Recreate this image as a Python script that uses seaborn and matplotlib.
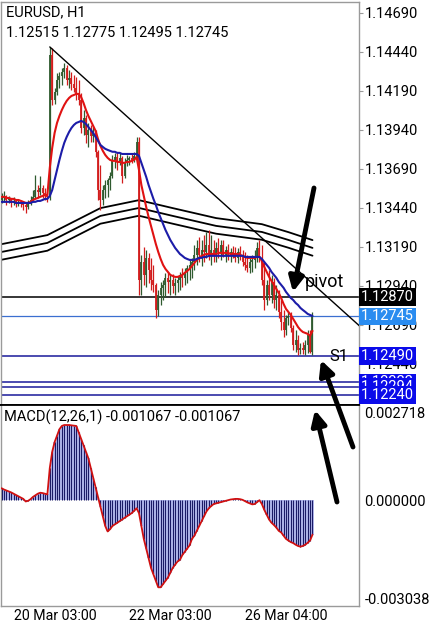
import numpy as np
import pandas as pd
import matplotlib
matplotlib.use('Agg')
import matplotlib.pyplot as plt
import matplotlib.transforms as mtransforms
import seaborn as sns

# ---------------- data: EURUSD H1, 130 bars ----------------
first_open = 1.13491
closes = [
    1.13504, 1.13517, 1.13491, 1.13498, 1.13472, 1.13485, 1.13466, 1.13479, 1.13472, 1.13459,
    1.13446, 1.13472, 1.13491, 1.13511, 1.13555, 1.13543, 1.13568, 1.13536, 1.13523, 1.13511,
    1.14421, 1.14132, 1.14184, 1.14260, 1.14286, 1.14312, 1.14337, 1.14260, 1.14273, 1.14235,
    1.14209, 1.14164, 1.14132, 1.13953, 1.14017, 1.13908, 1.13940, 1.13902, 1.13921, 1.13800,
    1.13555, 1.13491, 1.13555, 1.13587, 1.13620, 1.13645, 1.13748, 1.13767, 1.13735, 1.13761,
    1.13645, 1.13735, 1.13748, 1.13761, 1.13742, 1.13774, 1.13863, 1.12979, 1.13094, 1.13011,
    1.13120, 1.13043, 1.12979, 1.12947, 1.12786, 1.12883, 1.12928, 1.12947, 1.12992, 1.12966,
    1.12979, 1.12940, 1.12960, 1.12979, 1.13011, 1.12992, 1.13030, 1.13056, 1.13075, 1.13094,
    1.13139, 1.13184, 1.13139, 1.13171, 1.13158, 1.13203, 1.13139, 1.13171, 1.13133, 1.13184,
    1.13158, 1.13203, 1.13139, 1.13171, 1.13133, 1.13158, 1.13145, 1.13120, 1.13158, 1.13133,
    1.13094, 1.13075, 1.13056, 1.13094, 1.13107, 1.13133, 1.13184, 1.13120, 1.12979, 1.12850,
    1.12947, 1.12883, 1.12966, 1.12850, 1.12883, 1.12774, 1.12710, 1.12658, 1.12735, 1.12748,
    1.12671, 1.12562, 1.12594, 1.12530, 1.12543, 1.12530, 1.12562, 1.12626, 1.12515, 1.12745,
]
highs = [
    1.13536, 1.13549, 1.13523, 1.13517, 1.13504, 1.13511, 1.13498, 1.13498, 1.13491, 1.13485,
    1.13479, 1.13491, 1.13517, 1.13555, 1.13652, 1.13587, 1.13645, 1.13587, 1.13568, 1.13543,
    1.14472, 1.14466, 1.14209, 1.14305, 1.14312, 1.14337, 1.14369, 1.14357, 1.14324, 1.14312,
    1.14292, 1.14280, 1.14260, 1.14177, 1.14068, 1.14036, 1.13985, 1.13972, 1.13959, 1.13940,
    1.13812, 1.13716, 1.13587, 1.13620, 1.13632, 1.13671, 1.13780, 1.13793, 1.13800, 1.13793,
    1.13774, 1.13761, 1.13780, 1.13774, 1.13786, 1.13800, 1.13895, 1.13895, 1.13139, 1.13190,
    1.13171, 1.13152, 1.13120, 1.13075, 1.12960, 1.12915, 1.12966, 1.12979, 1.13024, 1.13030,
    1.13011, 1.13017, 1.12992, 1.13004, 1.13030, 1.13056, 1.13056, 1.13075, 1.13107, 1.13120,
    1.13203, 1.13235, 1.13254, 1.13235, 1.13266, 1.13286, 1.13299, 1.13266, 1.13235, 1.13222,
    1.13247, 1.13235, 1.13235, 1.13197, 1.13209, 1.13184, 1.13197, 1.13190, 1.13184, 1.13197,
    1.13171, 1.13158, 1.13139, 1.13120, 1.13139, 1.13171, 1.13222, 1.13235, 1.13203, 1.13094,
    1.12979, 1.13043, 1.13011, 1.12992, 1.12947, 1.12915, 1.12850, 1.12786, 1.12754, 1.12774,
    1.12774, 1.12690, 1.12658, 1.12626, 1.12575, 1.12581, 1.12594, 1.12658, 1.12658, 1.12775,
]
lows = [
    1.13472, 1.13479, 1.13459, 1.13472, 1.13446, 1.13459, 1.13446, 1.13453, 1.13446, 1.13427,
    1.13408, 1.13433, 1.13459, 1.13479, 1.13504, 1.13504, 1.13523, 1.13504, 1.13491, 1.13479,
    1.13491, 1.14100, 1.14107, 1.14164, 1.14209, 1.14228, 1.14273, 1.14228, 1.14209, 1.14196,
    1.14184, 1.14132, 1.14100, 1.13921, 1.13908, 1.13857, 1.13831, 1.13863, 1.13863, 1.13767,
    1.13491, 1.13427, 1.13459, 1.13504, 1.13511, 1.13555, 1.13632, 1.13697, 1.13684, 1.13716,
    1.13600, 1.13632, 1.13709, 1.13716, 1.13729, 1.13735, 1.13748, 1.12883, 1.12883, 1.12947,
    1.12934, 1.12960, 1.12915, 1.12902, 1.12735, 1.12748, 1.12818, 1.12850, 1.12870, 1.12895,
    1.12883, 1.12895, 1.12883, 1.12902, 1.12915, 1.12934, 1.12947, 1.12960, 1.12979, 1.12992,
    1.13043, 1.13075, 1.13094, 1.13068, 1.13094, 1.13120, 1.13107, 1.13075, 1.13094, 1.13094,
    1.13120, 1.13107, 1.13126, 1.13094, 1.13107, 1.13094, 1.13120, 1.13094, 1.13088, 1.13107,
    1.13068, 1.13043, 1.13030, 1.13024, 1.13030, 1.13056, 1.13094, 1.13094, 1.12947, 1.12786,
    1.12818, 1.12850, 1.12831, 1.12799, 1.12786, 1.12735, 1.12658, 1.12614, 1.12626, 1.12690,
    1.12645, 1.12530, 1.12517, 1.12498, 1.12505, 1.12505, 1.12498, 1.12511, 1.12511, 1.12495,
]
red_ma = [
    1.13511, 1.13511, 1.13504, 1.13504, 1.13498, 1.13498, 1.13491, 1.13491, 1.13485, 1.13479,
    1.13472, 1.13472, 1.13479, 1.13491, 1.13498, 1.13504, 1.13511, 1.13517, 1.13523, 1.13523,
    1.13697, 1.13825, 1.13921, 1.13985, 1.14030, 1.14068, 1.14100, 1.14126, 1.14145, 1.14158,
    1.14164, 1.14171, 1.14171, 1.14151, 1.14113, 1.14068, 1.14030, 1.13998, 1.13966, 1.13934,
    1.13882, 1.13838, 1.13806, 1.13780, 1.13761, 1.13748, 1.13742, 1.13742, 1.13735, 1.13735,
    1.13729, 1.13729, 1.13735, 1.13735, 1.13742, 1.13748, 1.13767, 1.13684, 1.13587, 1.13517,
    1.13446, 1.13382, 1.13325, 1.13267, 1.13209, 1.13158, 1.13113, 1.13075, 1.13049, 1.13030,
    1.13011, 1.13004, 1.12998, 1.12998, 1.13004, 1.13011, 1.13024, 1.13036, 1.13049, 1.13068,
    1.13088, 1.13107, 1.13120, 1.13133, 1.13139, 1.13145, 1.13145, 1.13145, 1.13145, 1.13145,
    1.13152, 1.13152, 1.13152, 1.13152, 1.13152, 1.13145, 1.13145, 1.13145, 1.13145, 1.13139,
    1.13133, 1.13126, 1.13120, 1.13120, 1.13120, 1.13120, 1.13126, 1.13126, 1.13100, 1.13062,
    1.13030, 1.12998, 1.12972, 1.12947, 1.12921, 1.12895, 1.12863, 1.12825, 1.12793, 1.12774,
    1.12754, 1.12729, 1.12703, 1.12677, 1.12658, 1.12645, 1.12639, 1.12633, 1.12620, 1.12652,
]
blue_ma = [
    1.13479, 1.13479, 1.13479, 1.13479, 1.13479, 1.13479, 1.13472, 1.13472, 1.13472, 1.13472,
    1.13472, 1.13472, 1.13472, 1.13479, 1.13479, 1.13485, 1.13485, 1.13491, 1.13498, 1.13498,
    1.13517, 1.13555, 1.13620, 1.13684, 1.13748, 1.13806, 1.13857, 1.13895, 1.13927, 1.13953,
    1.13972, 1.13985, 1.13991, 1.13998, 1.13991, 1.13978, 1.13959, 1.13940, 1.13921, 1.13895,
    1.13870, 1.13844, 1.13831, 1.13819, 1.13812, 1.13806, 1.13800, 1.13800, 1.13793, 1.13793,
    1.13786, 1.13786, 1.13786, 1.13786, 1.13786, 1.13786, 1.13786, 1.13774, 1.13729, 1.13684,
    1.13639, 1.13587, 1.13543, 1.13498, 1.13459, 1.13414, 1.13376, 1.13337, 1.13299, 1.13267,
    1.13235, 1.13209, 1.13184, 1.13164, 1.13145, 1.13133, 1.13120, 1.13113, 1.13107, 1.13107,
    1.13107, 1.13113, 1.13120, 1.13120, 1.13126, 1.13126, 1.13133, 1.13133, 1.13133, 1.13133,
    1.13133, 1.13133, 1.13133, 1.13133, 1.13133, 1.13133, 1.13133, 1.13133, 1.13133, 1.13133,
    1.13133, 1.13126, 1.13126, 1.13126, 1.13126, 1.13126, 1.13126, 1.13126, 1.13113, 1.13094,
    1.13075, 1.13056, 1.13030, 1.13011, 1.12992, 1.12966, 1.12947, 1.12928, 1.12902, 1.12883,
    1.12863, 1.12850, 1.12831, 1.12818, 1.12799, 1.12786, 1.12774, 1.12761, 1.12754, 1.12748,
]
macd = [
    0.00037, 0.00033, 0.00030, 0.00027, 0.00024, 0.00020, 0.00016, 0.00012, 0.00008, 0.00004,
    -0.00004, -0.00002, 0.00003, 0.00010, 0.00015, 0.00020, 0.00023, 0.00022, 0.00020, 0.00018,
    0.00100, 0.00150, 0.00180, 0.00200, 0.00220, 0.00230, 0.00233, 0.00233, 0.00233, 0.00232,
    0.00231, 0.00230, 0.00210, 0.00190, 0.00170, 0.00150, 0.00130, 0.00100, 0.00070, 0.00040,
    0.00010, -0.00020, -0.00050, -0.00080, -0.00097, -0.00090, -0.00080, -0.00075, -0.00070, -0.00065,
    -0.00060, -0.00055, -0.00050, -0.00045, -0.00040, -0.00033, -0.00025, -0.00040, -0.00080, -0.00120,
    -0.00150, -0.00180, -0.00210, -0.00230, -0.00250, -0.00270, -0.00270, -0.00260, -0.00250, -0.00240,
    -0.00225, -0.00210, -0.00200, -0.00190, -0.00185, -0.00170, -0.00160, -0.00150, -0.00140, -0.00120,
    -0.00110, -0.00095, -0.00080, -0.00065, -0.00050, -0.00035, -0.00025, -0.00018, -0.00012, -0.00010,
    -0.00008, -0.00006, -0.00004, -0.00002, 0.00000, 0.00002, 0.00003, 0.00004, 0.00004, 0.00003,
    0.00001, -0.00003, -0.00007, -0.00010, -0.00013, -0.00012, -0.00006, 0.00000, -0.00012, -0.00030,
    -0.00045, -0.00060, -0.00070, -0.00077, -0.00085, -0.00095, -0.00100, -0.00110, -0.00120, -0.00125,
    -0.00130, -0.00133, -0.00138, -0.00142, -0.00144, -0.00142, -0.00138, -0.00132, -0.00125, -0.001067,
]

# envelope (three black lines) vertices
band_bars = [0, 19, 41, 57, 71, 89, 108, 119, 129]
band_mid = [1.13158, 1.13216, 1.13389, 1.13440, 1.13389, 1.13325, 1.13286, 1.13235, 1.13184]
band_half = 0.0005

# trend line anchors
trend_bars = [20, 149]
trend_prices = [1.14472, 1.12677]

# horizontal levels
levels = [1.12322, 1.12294, 1.12240, 1.12490, 1.12745, 1.12870]
level_line_colors = ['#1a1a9a', '#1a1a9a', '#1a1a9a', '#1a1a9a', '#3b6fd0', 'black']
level_box_colors = ['#0b0bea', '#0b0bea', '#0b0bea', '#0b0bea', '#2a8cf0', 'black']

price_ticks = [1.14690, 1.14440, 1.14190, 1.13940, 1.13690, 1.13440,
               1.13190, 1.12940, 1.12690, 1.12440]
macd_ticks = [0.002718, 0.0, -0.003038]
date_ticks = [5, 53, 101]
date_labels = ['20 Mar 03:00', '22 Mar 03:00', '26 Mar 04:00']

# ---------------- build table ----------------
df = pd.DataFrame({'bar': np.arange(len(closes)), 'close': closes,
                   'high': highs, 'low': lows, 'red': red_ma,
                   'blue': blue_ma, 'macd': macd})
df['open'] = [first_open] + closes[:-1]
df['up'] = df['close'] >= df['open']

sns.set_theme(style='white')
plt.rcParams['font.family'] = ['Roboto', 'DejaVu Sans']
plt.rcParams['axes.linewidth'] = 1.0

fig = plt.figure(figsize=(4.35, 6.25), dpi=100)
ax1 = fig.add_axes([0.002, 0.352, 0.8233, 0.6448])
ax2 = fig.add_axes([0.002, 0.0304, 0.8233, 0.3216])

XMIN, XMAX = -0.3, 148.3
grey = '#9a9a9a'

# ---- price panel ----
for lv, lc in zip(levels, level_line_colors):
    ax1.axhline(lv, color=lc, lw=1.1 if lc != '#3b6fd0' else 0.9, zorder=1)

for off in [band_half, 0.0, -band_half]:
    sns.lineplot(x=band_bars, y=[m + off for m in band_mid], ax=ax1,
                 color='black', lw=1.3, zorder=2)

bar_colors = np.where(df['up'], '#2f5a2f', '#d21c1c')
ax1.vlines(df['bar'], df['low'], df['high'], colors=bar_colors, lw=0.9, zorder=3)
ax1.vlines(df['bar'], df['open'], df['close'], colors=bar_colors, lw=1.3, zorder=3)

sns.lineplot(data=df, x='bar', y='red', ax=ax1, color='#e01212', lw=1.5, zorder=4)
sns.lineplot(data=df, x='bar', y='blue', ax=ax1, color='#1c1ca8', lw=1.5, zorder=4)
ax1.plot(trend_bars, trend_prices, color='black', lw=1.0, zorder=4)

ax1.set_xlim(XMIN, XMAX)
ax1.set_ylim(1.12177, 1.14760)
ax1.set_xlabel('')
ax1.set_ylabel('')
ax1.set_xticks([])
ax1.yaxis.tick_right()
ax1.set_yticks(price_ticks)
ax1.set_yticklabels([f'{v:.5f}' for v in price_ticks])
ax1.tick_params(axis='y', direction='out', length=3, width=0.8, color=grey,
                labelsize=10.5, pad=1.5, labelcolor='black')
for s in ['top', 'left', 'right']:
    ax1.spines[s].set_color(grey)
ax1.spines['bottom'].set_color('black')
ax1.spines['bottom'].set_linewidth(1.3)

trans = mtransforms.blended_transform_factory(ax1.transAxes, ax1.transData)
for lv, bc in zip(levels, level_box_colors):
    ax1.text(1.006, lv, f'{lv:.5f}', transform=trans, ha='left', va='center',
             color='white', fontsize=10.5, clip_on=False, zorder=6,
             bbox=dict(boxstyle='square,pad=0.12', fc=bc, ec='none'))

ax1.text(0.014, 0.975, 'EURUSD, H1', transform=ax1.transAxes, fontsize=10.5,
         ha='left', va='center', color='black')
ax1.text(0.014, 0.923, '1.12515 1.12775 1.12495 1.12745', transform=ax1.transAxes,
         fontsize=10.5, ha='left', va='center', color='black')
ax1.text(125.8, 1.12965, 'pivot', fontsize=13, ha='left', va='center', color='black')
ax1.text(135.8, 1.12490, 'S1', fontsize=12, ha='left', va='center', color='black')

# ---- MACD panel ----
ax2.bar(df['bar'], df['macd'], width=1.0, color='#b3b9ee', lw=0, zorder=2)
ax2.vlines(df['bar'], 0, df['macd'], colors='#1a1a66', lw=0.8, zorder=3)
sns.lineplot(data=df, x='bar', y='macd', ax=ax2, color='#d01010', lw=1.3, zorder=4)
ax2.set_xlim(XMIN, XMAX)
ax2.set_ylim(-0.00328, 0.00295)
ax2.set_xlabel('')
ax2.set_ylabel('')
ax2.yaxis.tick_right()
ax2.set_yticks(macd_ticks)
ax2.set_yticklabels([f'{v:.6f}' for v in macd_ticks])
ax2.tick_params(axis='y', length=0, labelsize=10.5, pad=4, labelcolor='black')
ax2.set_xticks(date_ticks)
ax2.set_xticklabels(date_labels, ha='left')
ax2.tick_params(axis='x', direction='out', length=2.5, width=0.8, color=grey,
                labelsize=10.2, pad=0, labelcolor='black')
for s in ['bottom', 'left', 'right']:
    ax2.spines[s].set_color(grey)
ax2.spines['top'].set_color('black')
ax2.spines['top'].set_linewidth(1.3)
ax2.text(0.008, 0.941, 'MACD(12,26,1) -0.001067 -0.001067', transform=ax2.transAxes,
         fontsize=10.5, ha='left', va='center', color='black')

# ---- hand-drawn arrows (figure pixels) ----
arrow_tails = [(314, 437), (353, 178), (337, 123)]
arrow_heads = [(293, 333), (321, 265), (315, 215)]
for (tx, ty), (hx, hy) in zip(arrow_tails, arrow_heads):
    fig.add_artist(matplotlib.patches.FancyArrowPatch(
        (tx, ty), (hx, hy), transform=None, arrowstyle='-|>',
        mutation_scale=22, lw=3.5, color='black', shrinkA=0, shrinkB=0, zorder=10))

fig.savefig('out.png', dpi=100, facecolor='white')
